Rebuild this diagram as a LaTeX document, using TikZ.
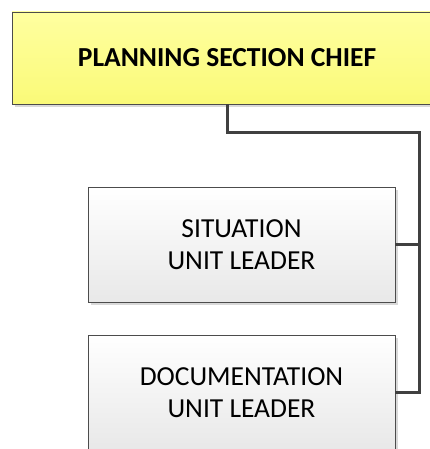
\documentclass[tikz,border=0pt]{standalone}
\usepackage{fontspec}
\setmainfont{Carlito}
\usetikzlibrary{shadows}
\definecolor{chiefyellow}{RGB}{255,255,160}
\definecolor{chiefyellowdark}{RGB}{250,250,120}
\definecolor{linegray}{RGB}{64,64,64}
\tikzset{
  orgbox/.style={draw=black!70, thin, minimum width=307pt, minimum height=115pt,
    top color=white, bottom color=black!9, align=center,
    drop shadow={shadow xshift=3pt, shadow yshift=-3pt, fill=black!25, opacity=0.6},
    font=\fontsize{27.5}{32}\selectfont},
  chiefbox/.style={orgbox, minimum width=430pt, minimum height=92pt,
    top color=chiefyellow, bottom color=chiefyellowdark, font=\fontsize{27.5}{32}\selectfont\bfseries},
  link/.style={draw=linegray, line width=3pt}
}
\begin{document}
\begin{tikzpicture}[x=1pt, y=-1pt]
  \useasboundingbox (0,0) rectangle (430,449);
  \clip (0,0) rectangle (430,449);
  \node[chiefbox] (chief) at (227,58) {PLANNING SECTION CHIEF};
  \node[orgbox] (situation) at (241.5,244.5) {SITUATION\\UNIT LEADER};
  \node[orgbox] (documentation) at (241.5,392.5) {DOCUMENTATION\\UNIT LEADER};
  \coordinate (bus) at (419,133);
  \draw[link] (chief.south) |- (bus) -- (bus |- documentation.east) -- (documentation.east);
  \draw[link] (situation.east) -- (bus |- situation.east);
\end{tikzpicture}
\end{document}
